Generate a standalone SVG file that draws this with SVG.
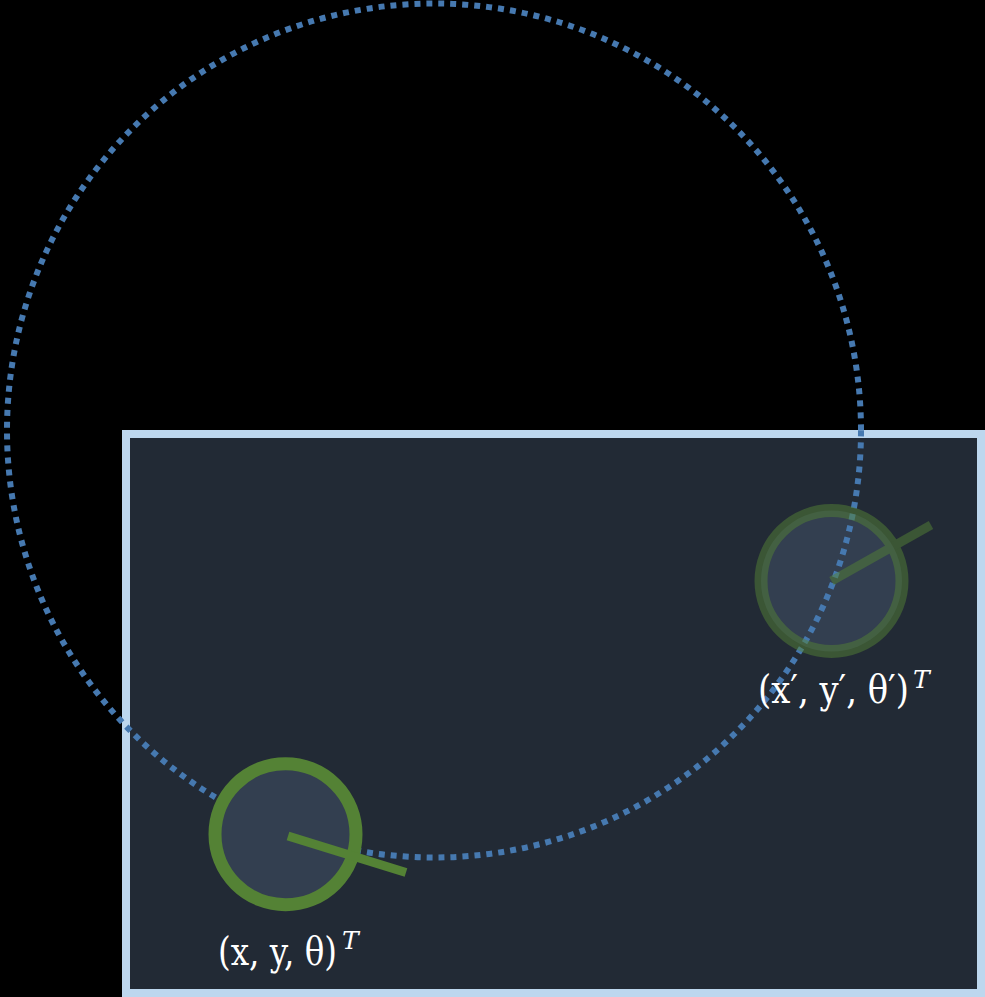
<svg xmlns="http://www.w3.org/2000/svg" width="985" height="997" viewBox="0 0 985 997">
<style>
.lbl{font-family:"DejaVu Serif","Liberation Serif",serif;fill:#ffffff;font-size:39px}
.sup{font-size:25px;font-style:italic}
.ring{fill:#333f50;stroke:#548235;stroke-width:13}
.head{stroke:#548235;stroke-width:9;stroke-linecap:butt}
</style>
<rect x="0" y="0" width="985" height="997" fill="#000000"/>
<g id="area">
<rect x="126" y="434" width="855" height="559" fill="#222a35" stroke="#bdd7ee" stroke-width="8"/>
</g>
<g id="robot2-body">
<circle cx="831.5" cy="581" r="70.5" fill="#333f50"/>
</g>
<g id="connectors">
<circle cx="434" cy="430.5" r="427" fill="none" stroke="#4679b0" stroke-width="6" stroke-dasharray="6 6"/>
</g>
<g id="robot2" opacity="0.5">
<circle cx="831.5" cy="581" r="70.5" fill="none" stroke="#548235" stroke-width="13"/>
<line x1="831.5" y1="581" x2="931" y2="525" class="head"/>
</g>
<g id="robot1">
<circle cx="285.5" cy="834.2" r="70.5" class="ring"/>
<line x1="288" y1="836" x2="406" y2="872.5" class="head"/>
</g>
<g id="label1">
<text x="218" y="965" class="lbl"><tspan textLength="119" lengthAdjust="spacingAndGlyphs">(x, y, θ)</tspan><tspan class="sup" x="342" y="949">T</tspan></text>
</g>
<g id="label2">
<text x="758" y="703" class="lbl"><tspan textLength="151" lengthAdjust="spacingAndGlyphs">(x′, y′, θ′)</tspan><tspan class="sup" x="913" y="688">T</tspan></text>
</g>
</svg>
